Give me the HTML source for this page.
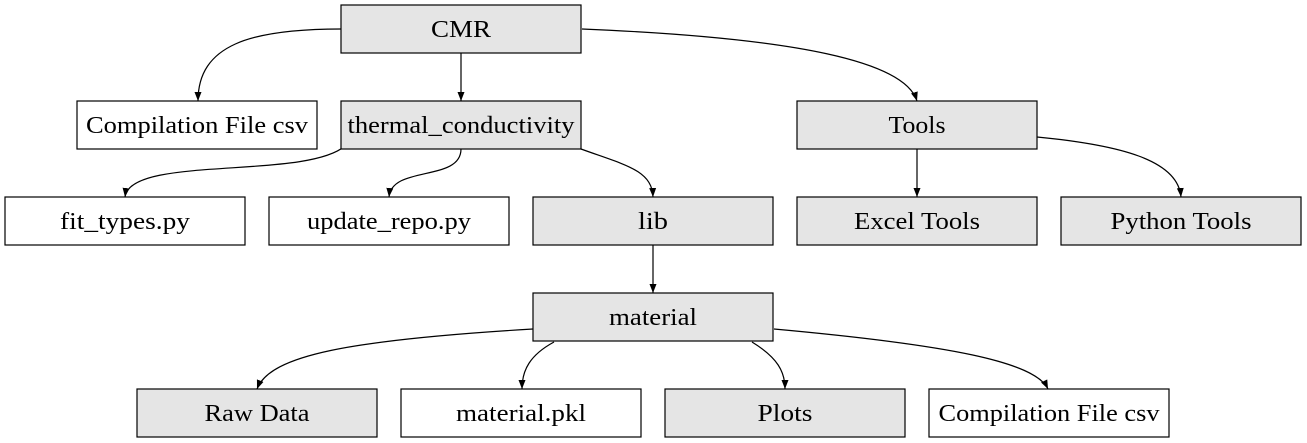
<!DOCTYPE html>
<html><head><meta charset="utf-8"><style>
html,body{margin:0;padding:0;background:#fff;}
svg{display:block;}
text{font-family:"Liberation Serif","Tinos","Nimbus Roman","DejaVu Serif",serif;font-size:24px;fill:#000;text-anchor:middle;}
.g{fill:#e5e5e5;stroke:#000;stroke-width:1.2;}
.w{fill:#fff;stroke:#000;stroke-width:1.2;}
.e{fill:none;stroke:#000;stroke-width:1.2;marker-end:url(#a);}
</style></head><body>
<svg width="1307" height="443" viewBox="0 0 1307 443">
<defs><marker id="a" markerWidth="10" markerHeight="10" refX="9" refY="5" orient="auto" markerUnits="userSpaceOnUse"><path d="M0,1.5 L9,5 L0,8.5 Z" fill="#000"/></marker></defs>
<path class="e" d="M341,29 C250,29 198,45 198,101"/>
<path class="e" d="M461,53 L461,101"/>
<path class="e" d="M582,29 C800,38 905,62 917,101"/>
<path class="e" d="M345,146 C305,180 130,155 125,197"/>
<path class="e" d="M461,149 C461,182 392,165 389,197"/>
<path class="e" d="M581,149 C625,165 652,170 653,197"/>
<path class="e" d="M917,149 L917,197"/>
<path class="e" d="M1037,137 C1120,145 1178,160 1181,197"/>
<path class="e" d="M653,245 L653,293"/>
<path class="e" d="M533,329 C350,340 270,355 257,389"/>
<path class="e" d="M554,342 C530,355 522,370 522,389"/>
<path class="e" d="M752,342 C778,358 785,372 785,389"/>
<path class="e" d="M774,329 C950,345 1035,362 1048,389"/>
<rect class="g" x="341" y="5" width="240" height="48"/><text x="461" y="37" textLength="60" lengthAdjust="spacingAndGlyphs">CMR</text>
<rect class="w" x="77" y="101" width="240" height="48"/><text x="197" y="133" textLength="222" lengthAdjust="spacingAndGlyphs">Compilation File csv</text>
<rect class="g" x="341" y="101" width="240" height="48"/><text x="461" y="133" textLength="227" lengthAdjust="spacingAndGlyphs">thermal_conductivity</text>
<rect class="g" x="797" y="101" width="240" height="48"/><text x="917" y="133" textLength="57" lengthAdjust="spacingAndGlyphs">Tools</text>
<rect class="w" x="5" y="197" width="240" height="48"/><text x="125" y="229" textLength="130" lengthAdjust="spacingAndGlyphs">fit_types.py</text>
<rect class="w" x="269" y="197" width="240" height="48"/><text x="389" y="229" textLength="164" lengthAdjust="spacingAndGlyphs">update_repo.py</text>
<rect class="g" x="533" y="197" width="240" height="48"/><text x="653" y="229" textLength="30" lengthAdjust="spacingAndGlyphs">lib</text>
<rect class="g" x="797" y="197" width="240" height="48"/><text x="917" y="229" textLength="126" lengthAdjust="spacingAndGlyphs">Excel Tools</text>
<rect class="g" x="1061" y="197" width="240" height="48"/><text x="1181" y="229" textLength="141" lengthAdjust="spacingAndGlyphs">Python Tools</text>
<rect class="g" x="533" y="293" width="240" height="48"/><text x="653" y="325" textLength="88" lengthAdjust="spacingAndGlyphs">material</text>
<rect class="g" x="137" y="389" width="240" height="48"/><text x="257" y="421" textLength="105" lengthAdjust="spacingAndGlyphs">Raw Data</text>
<rect class="w" x="401" y="389" width="240" height="48"/><text x="521" y="421" textLength="130" lengthAdjust="spacingAndGlyphs">material.pkl</text>
<rect class="g" x="665" y="389" width="240" height="48"/><text x="785" y="421" textLength="55" lengthAdjust="spacingAndGlyphs">Plots</text>
<rect class="w" x="929" y="389" width="240" height="48"/><text x="1049" y="421" textLength="221" lengthAdjust="spacingAndGlyphs">Compilation File csv</text>
</svg>
</body></html>
